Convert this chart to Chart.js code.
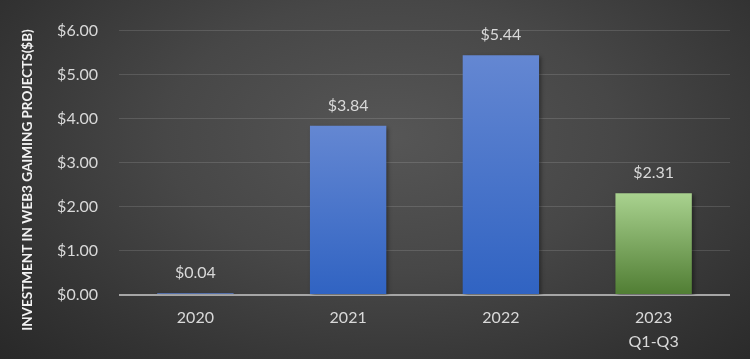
<!DOCTYPE html>
<html>
<head>
<meta charset="utf-8">
<script src="https://cdn.jsdelivr.net/npm/chart.js@4"></script>
<style>
  html, body { margin: 0; padding: 0; }
  #wrap {
    width: 750px;
    height: 359px;
    background: radial-gradient(ellipse 75% 95% at 52% 38%, #565656 0%, #474747 40%, #333333 75%, #262626 100%);
  }
</style>
</head>
<body>
<div id="wrap"><canvas id="investChart" width="750" height="359"></canvas></div>
<script>
const categories = ['2020', '2021', '2022', ['2023', 'Q1-Q3']]
const investment = [0.04, 3.84, 5.44, 2.31]
const yMax = 6

const yTitle = 'INVESTMENT IN WEB3 GAIMING PROJECTS($B)'
const blueStops = ['#6487d2', '#3063c2']
const greenStops = ['#a9d28f', '#507d33']

function barFill(context) {
  const chart = context.chart
  const stops = context.dataIndex === 3 ? greenStops : blueStops
  if (!chart.chartArea || !chart.scales.y) return stops[1]
  const y = chart.scales.y
  const top = y.getPixelForValue(context.raw)
  const base = y.getPixelForValue(0)
  if (base - top < 1) return stops[1]
  const grad = chart.ctx.createLinearGradient(0, top, 0, base)
  grad.addColorStop(0, stops[0])
  grad.addColorStop(1, stops[1])
  return grad
}

// soft shadow under the bars
const barShadow = {
  id: 'barShadow',
  beforeDatasetsDraw(chart) {
    const ctx = chart.ctx
    ctx.save()
    ctx.shadowColor = 'rgba(0, 0, 0, 0.4)'
    ctx.shadowBlur = 4
    ctx.shadowOffsetX = 2
    ctx.shadowOffsetY = 2
  },
  afterDatasetsDraw(chart) {
    chart.ctx.restore()
  },
}

// value labels above each bar and the y title
const valueLabels = {
  id: 'valueLabels',
  afterDraw(chart) {
    const ctx = chart.ctx
    const meta = chart.getDatasetMeta(0)
    ctx.save()
    ctx.font = '16px Lato'
    ctx.fillStyle = '#d9d9d9'
    ctx.textAlign = 'center'
    ctx.textBaseline = 'middle'
    meta.data.forEach((bar, i) => {
      ctx.fillText('$' + investment[i].toFixed(2), bar.x, bar.y - 20)
    })

    ctx.translate(28, 180)
    ctx.rotate(-Math.PI / 2)
    ctx.font = 'bold 13.5px Lato'
    ctx.fillStyle = '#f2f2f2'
    ctx.fillText(yTitle, 0, 0)
    ctx.restore()
  },
}

new Chart(document.getElementById('investChart'), {
  type: 'bar',
  data: {
    labels: categories,
    datasets: [
      {
        data: investment,
        backgroundColor: barFill,
        borderWidth: 0,
        barPercentage: 0.5,
        categoryPercentage: 1,
      },
    ],
  },
  options: {
    responsive: false,
    animation: false,
    layout: { padding: { top: 30, right: 20, left: 0, bottom: 0 } },
    plugins: {
      legend: { display: false },
      tooltip: { enabled: false },
    },
    scales: {
      x: {
        grid: { display: false, drawTicks: false },
        border: { display: false },
        ticks: {
          color: '#d9d9d9',
          font: { family: 'Lato', size: 16, lineHeight: 1.5 },
          padding: 11,
          maxRotation: 0,
        },
        afterFit(scale) {
          scale.height = 64
        },
      },
      y: {
        min: 0,
        max: yMax,
        grid: {
          drawTicks: false,
          color: ctx => (ctx.tick && ctx.tick.value === 0 ? '#a6a6a6' : 'rgba(255, 255, 255, 0.13)'),
          lineWidth: ctx => (ctx.tick && ctx.tick.value === 0 ? 2 : 1),
        },
        border: { display: false },
        ticks: {
          stepSize: 1,
          color: '#d9d9d9',
          font: { family: 'Lato', size: 16 },
          padding: 21,
          callback: v => '$' + v.toFixed(2),
        },
        afterFit(scale) {
          scale.width = 119
        },
      },
    },
  },
  plugins: [barShadow, valueLabels],
})
</script>
</body>
</html>
